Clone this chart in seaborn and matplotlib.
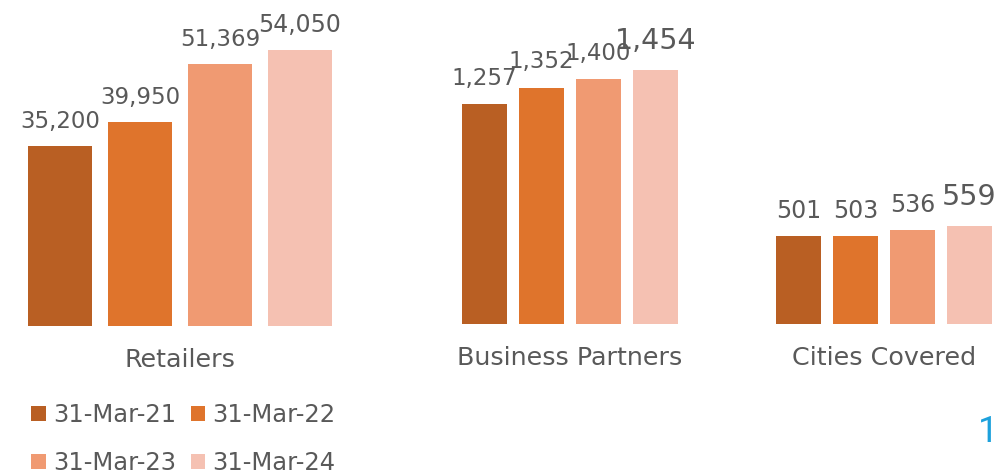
import matplotlib
matplotlib.use("Agg")
import matplotlib.pyplot as plt
import seaborn as sns
import pandas as pd
from matplotlib.patches import Patch

sns.set_theme(style="white")
plt.rcParams['font.family'] = ['DejaVu Sans']

dates = ["31-Mar-21", "31-Mar-22", "31-Mar-23", "31-Mar-24"]
colors = ["#B95F23", "#DF742C", "#F09A72", "#F5C1B2"]
categories = ["Retailers", "Business Partners", "Cities Covered"]
retailers = [35200, 39950, 51369, 54050]
partners = [1257, 1352, 1400, 1454]
cities = [501, 503, 536, 559]
series = [retailers, partners, cities]

TXT = "#595959"
W, H = 995, 473
fig = plt.figure(figsize=(W / 100, H / 100), dpi=100)

# panel layout in pixels: (left, width, bottom_px, top_px, ymax, bar width)
panels = [
    (20, 320, 326, 10, 316 * 195.83, 0.8),
    (456, 228, 324, 10, 314 * 5.724, 0.79),
    (770, 228, 324, 10, 314 * 5.704, 0.79),
]
label_sizes = [
    [16.5, 16.5, 16.5, 17.0],
    [16.5, 16.5, 16.5, 20.5],
    [17.0, 17.0, 17.0, 20.5],
]
label_offsets = [
    [13, 13, 13, 13],
    [14, 14, 14, 15],
    [13, 13, 13, 15],
]
cat_pos = [(180, 367), (570, 365), (884, 365)]

for i, (left, width, bpx, tpx, ymax, bw) in enumerate(panels):
    ax = fig.add_axes([left / W, (H - bpx) / H, width / W, (bpx - tpx) / H])
    df = pd.DataFrame({"date": dates, "value": series[i]})
    sns.barplot(data=df, x="date", y="value", hue="date", palette=colors,
                saturation=1, width=bw, legend=False, ax=ax, linewidth=0)
    ax.set_xlim(-0.5, 3.5)
    ax.set_ylim(0, ymax)
    ax.axis("off")
    for j, cont in enumerate(ax.containers):
        for bar in cont:
            v = bar.get_height()
            ax.annotate(f"{v:,.0f}", xy=(bar.get_x() + bar.get_width() / 2, v),
                        xytext=(0, label_offsets[i][j]), textcoords="offset points",
                        ha="center", va="baseline", fontsize=label_sizes[i][j],
                        color=TXT)
    cx, cy = cat_pos[i]
    fig.text(cx / W, 1 - cy / H, categories[i], ha="center", va="baseline",
             fontsize=18.3, color=TXT)

handles = [Patch(facecolor=c, edgecolor="none", label=d) for c, d in zip(colors, dates)]
order = [0, 2, 1, 3]  # row-major filling: row 1 = 21, 22 ; row 2 = 23, 24
fig.legend(handles=[handles[k] for k in order], loc="upper left",
           bbox_to_anchor=(31 / W, 1 - 403 / H),
           ncol=2, frameon=False, fontsize=17.5, labelcolor=TXT,
           handlelength=0.6, handleheight=0.6, handletextpad=0.3,
           columnspacing=0.6, labelspacing=1.0, borderpad=0, borderaxespad=0)

fig.text(998 / W, 1 - 442 / H, "1", ha="right", va="baseline", fontsize=26,
         color="#1DA1DC", family=["Roboto", "DejaVu Sans"])

fig.savefig("out.png", dpi=100)
